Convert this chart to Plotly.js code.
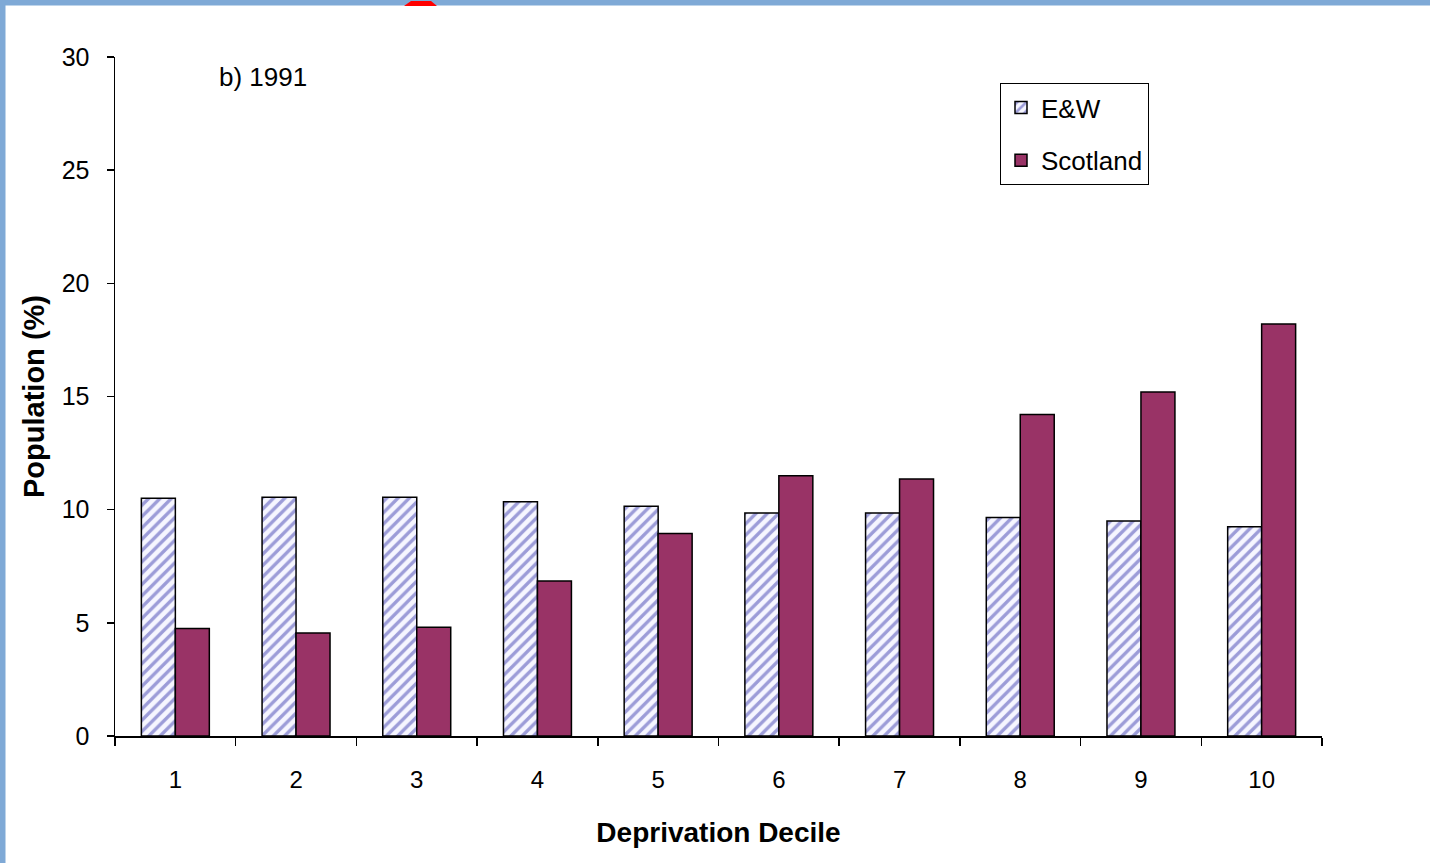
<!DOCTYPE html>
<html>
<head>
<meta charset="utf-8">
<script src="https://cdn.plot.ly/plotly-3.0.1.min.js"></script>
<style>
  html, body { margin: 0; padding: 0; background: #ffffff; }
  #chart { width: 1430px; height: 863px; }
</style>
</head>
<body>
<div id="chart"></div>
<script>
// ---- data ----
var deciles = ['1', '2', '3', '4', '5', '6', '7', '8', '9', '10'];
var ewValues = [10.5, 10.55, 10.55, 10.35, 10.15, 9.85, 9.85, 9.65, 9.5, 9.25];
var scotlandValues = [4.75, 4.55, 4.8, 6.85, 8.95, 11.5, 11.35, 14.2, 15.2, 18.2];
var seriesNames = ['E&W', 'Scotland'];
var panelLabel = 'b) 1991';
var yTitle = 'Population (%)';
var xTitle = 'Deprivation Decile';

// ---- layout geometry (pixels) ----
var W = 1430, H = 863;
var L = 115, R = 1322, T = 57, B = 736;
function px(x) { return (x - L) / (R - L); }
function py(y) { return (B - y) / (B - T); }

var FONT = 'Liberation Sans, Arial, sans-serif';

var traces = [
  {
    type: 'bar',
    name: seriesNames[0],
    x: deciles,
    y: ewValues,
    legendgroup: 'a',
    marker: {
      color: '#ffffff',
      pattern: { shape: '/', fgcolor: '#9c9cd8', bgcolor: '#f6f6ff', size: 8, solidity: 0.42 },
      line: { color: '#000000', width: 1.5 }
    },
    hoverinfo: 'x+y'
  },
  {
    type: 'bar',
    name: seriesNames[1],
    x: deciles,
    y: scotlandValues,
    legendgroup: 'b',
    marker: {
      color: '#993366',
      line: { color: '#000000', width: 1.5 }
    },
    hoverinfo: 'x+y'
  }
];

var blue = '#7fa9d6';
var layout = {
  width: W,
  height: H,
  margin: { l: L, r: W - R, t: T, b: H - B, pad: 0 },
  paper_bgcolor: '#ffffff',
  plot_bgcolor: '#ffffff',
  font: { family: FONT, size: 24, color: '#000000' },
  barmode: 'group',
  bargap: 0.437,
  bargroupgap: 0,
  showlegend: true,
  legend: {
    x: px(1000), y: py(83), xanchor: 'left', yanchor: 'top',
    bgcolor: '#ffffff', bordercolor: '#000000', borderwidth: 1,
    font: { family: FONT, size: 26, color: '#000000' },
    traceorder: 'grouped',
    tracegroupgap: 16,
    itemwidth: 30
  },
  xaxis: {
    type: 'category',
    showline: true, linecolor: '#000000', linewidth: 1.5,
    ticks: 'outside', tickson: 'boundaries', ticklen: 8, tickwidth: 1.5, tickcolor: '#000000',
    showgrid: false, zeroline: false,
    tickfont: { family: FONT, size: 24, color: '#000000' },
    ticklabelstandoff: 22,
    title: { text: xTitle, font: { family: FONT, size: 28, color: '#000000', weight: 'bold' }, standoff: 30 },
    fixedrange: true
  },
  yaxis: {
    range: [0, 30], dtick: 5, tick0: 0,
    showline: true, linecolor: '#000000', linewidth: 1.5,
    ticks: 'outside', ticklen: 7, tickwidth: 1.5, tickcolor: '#000000',
    showgrid: false, zeroline: false,
    tickfont: { family: FONT, size: 25, color: '#000000' },
    ticklabelstandoff: 12,
    title: { text: yTitle, font: { family: FONT, size: 29, color: '#000000', weight: 'bold' }, standoff: 8 },
    fixedrange: true
  },
  annotations: [
    {
      xref: 'paper', yref: 'paper', x: px(217), y: py(77), xanchor: 'left', yanchor: 'middle',
      text: panelLabel, showarrow: false, font: { family: FONT, size: 26, color: '#000000' }
    }
  ],
  shapes: [
    // blue frame top
    { type: 'rect', xref: 'paper', yref: 'paper', x0: px(0), x1: px(W), y0: py(0), y1: py(5.5),
      fillcolor: blue, line: { width: 0 }, layer: 'above' },
    // blue frame left
    { type: 'rect', xref: 'paper', yref: 'paper', x0: px(0), x1: px(5.5), y0: py(0), y1: py(H),
      fillcolor: blue, line: { width: 0 }, layer: 'above' },
    // red mark at top
    { type: 'path', xref: 'paper', yref: 'paper', layer: 'above',
      path: 'M' + px(404) + ',' + py(6) + ' L' + px(437) + ',' + py(6) +
            ' L' + px(431) + ',' + py(1) + ' L' + px(411) + ',' + py(1) + ' Z',
      fillcolor: '#ff0000', line: { width: 0 } }
  ]
};

Plotly.newPlot('chart', traces, layout, { displayModeBar: false, staticPlot: true });
</script>
</body>
</html>
